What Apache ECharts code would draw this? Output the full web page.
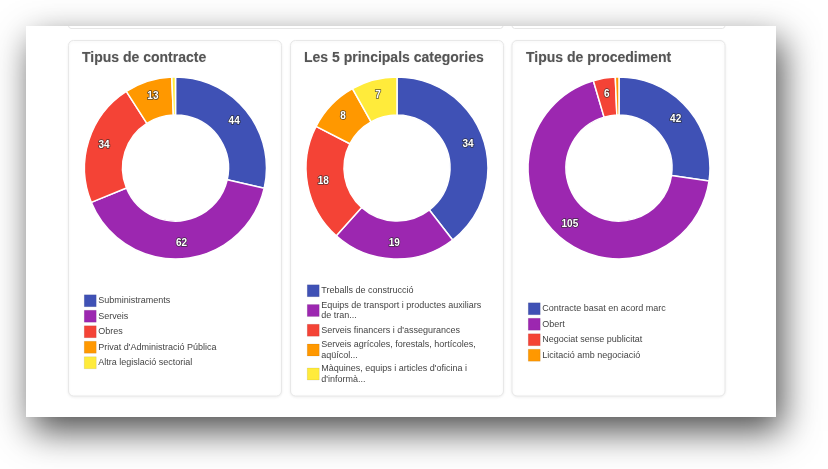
<!DOCTYPE html>
<html>
<head>
<meta charset="utf-8">
<script src="https://cdn.jsdelivr.net/npm/echarts@6/dist/echarts.min.js"></script>
<style>
html,body{margin:0;padding:0;background:#fff;}
#chart{width:828px;height:469px;}
</style>
</head>
<body>
<div id="chart"></div>
<script>
// ---- data ----
const palette = ['#3F51B5', '#9C27B0', '#F44336', '#FF9800', '#FFEB3B'];

const titles = ['Tipus de contracte', 'Les 5 principals categories', 'Tipus de procediment'];

const contracteNames = ['Subministraments', 'Serveis', 'Obres', "Privat d'Administració Pública", 'Altra legislació sectorial'];
const contracteValues = [44, 62, 34, 13, 1];

const categoriesNames = [
  'Treballs de construcció',
  'Equips de transport i productes auxiliars de tran...',
  "Serveis financers i d'assegurances",
  'Serveis agrícoles, forestals, hortícoles, aqüícol...',
  "Màquines, equips i articles d'oficina i d'informà..."
];
const categoriesValues = [34, 19, 18, 8, 7];

const procedimentNames = ['Contracte basat en acord marc', 'Obert', 'Negociat sense publicitat', 'Licitació amb negociació'];
const procedimentValues = [42, 105, 6, 1];

// ---- layout ----
const cards = [
  { x: 68.5, cx: 175.5, titleX: 82, legendX: 84, legendY: 294.5 },
  { x: 290.5, cx: 397, titleX: 304, legendX: 307, legendY: 284.5 },
  { x: 512, cx: 619, titleX: 526, legendX: 528, legendY: 302.5 }
];
const groups = [
  [contracteNames, contracteValues],
  [categoriesNames, categoriesValues],
  [procedimentNames, procedimentValues]
];

const chart = echarts.init(document.getElementById('chart'), null, { renderer: 'canvas' });

function cardBottom(x0, x1, y) {
  return { type: 'polyline', z: 1,
    shape: { points: [[x0, 26], [x0, y - 2.5], [x0 + 0.8, y - 0.8], [x0 + 2.5, y], [x1 - 2.5, y], [x1 - 0.8, y - 0.8], [x1, y - 2.5], [x1, 26]] },
    style: { fill: null, stroke: '#e6e6e6', lineWidth: 1 } };
}

const graphic = [
  { type: 'rect', z: 0, shape: { x: 26, y: 26, width: 750, height: 391 },
    style: { fill: '#fff', shadowBlur: 34, shadowColor: 'rgba(0,0,0,0.7)', shadowOffsetX: 6, shadowOffsetY: 14 } },
  cardBottom(68.5, 503, 28.5),
  cardBottom(512, 725, 28.5)
];
cards.forEach(c => {
  graphic.push({ type: 'rect', z: 1, shape: { x: c.x, y: 40.5, width: 213, height: 355.5, r: 5 },
    style: { fill: '#fff', stroke: '#e8e8e8', lineWidth: 1, shadowBlur: 3, shadowColor: 'rgba(0,0,0,0.06)', shadowOffsetY: 1 } });
});

const title = cards.map((c, i) => ({
  text: titles[i], left: c.titleX, top: 51, padding: 0,
  textStyle: { fontFamily: 'Liberation Sans, Arial, sans-serif', fontSize: 14, fontWeight: 'bold', color: '#555',
    textShadowColor: 'rgba(0,0,0,0.25)', textShadowBlur: 1 }
}));

const legend = cards.map((c, i) => ({
  data: groups[i][0], orient: 'vertical', left: c.legendX, top: c.legendY, padding: 0,
  itemWidth: 12, itemHeight: 12, itemGap: 3, icon: 'rect', selectedMode: false,
  itemStyle: { borderColor: 'rgba(0,0,0,0.15)', borderWidth: 0.5 },
  textStyle: { fontFamily: 'Liberation Sans, Arial, sans-serif', fontSize: 9, color: '#444', lineHeight: 10.5,
    width: 172, overflow: 'break', padding: [0, 0, 0, -3] }
}));

const series = cards.map((c, i) => ({
  type: 'pie', z: 2, center: [c.cx, 168], radius: [53, 91], startAngle: 90, clockwise: true,
  silent: true, animation: false, minShowLabelAngle: 5,
  itemStyle: { borderColor: '#fff', borderWidth: 1.5 },
  label: { show: true, position: 'inside', formatter: '{c}', color: '#fff', fontWeight: 'bold', fontSize: 10,
    fontFamily: 'Liberation Sans, Arial, sans-serif',
    textBorderColor: 'rgba(40,40,40,0.75)', textBorderWidth: 1.5 },
  labelLine: { show: false },
  data: groups[i][0].map((n, k) => ({ name: n, value: groups[i][1][k], itemStyle: { color: palette[k] } }))
}));

chart.setOption({ animation: false, graphic, title, legend, series });
</script>
</body>
</html>
